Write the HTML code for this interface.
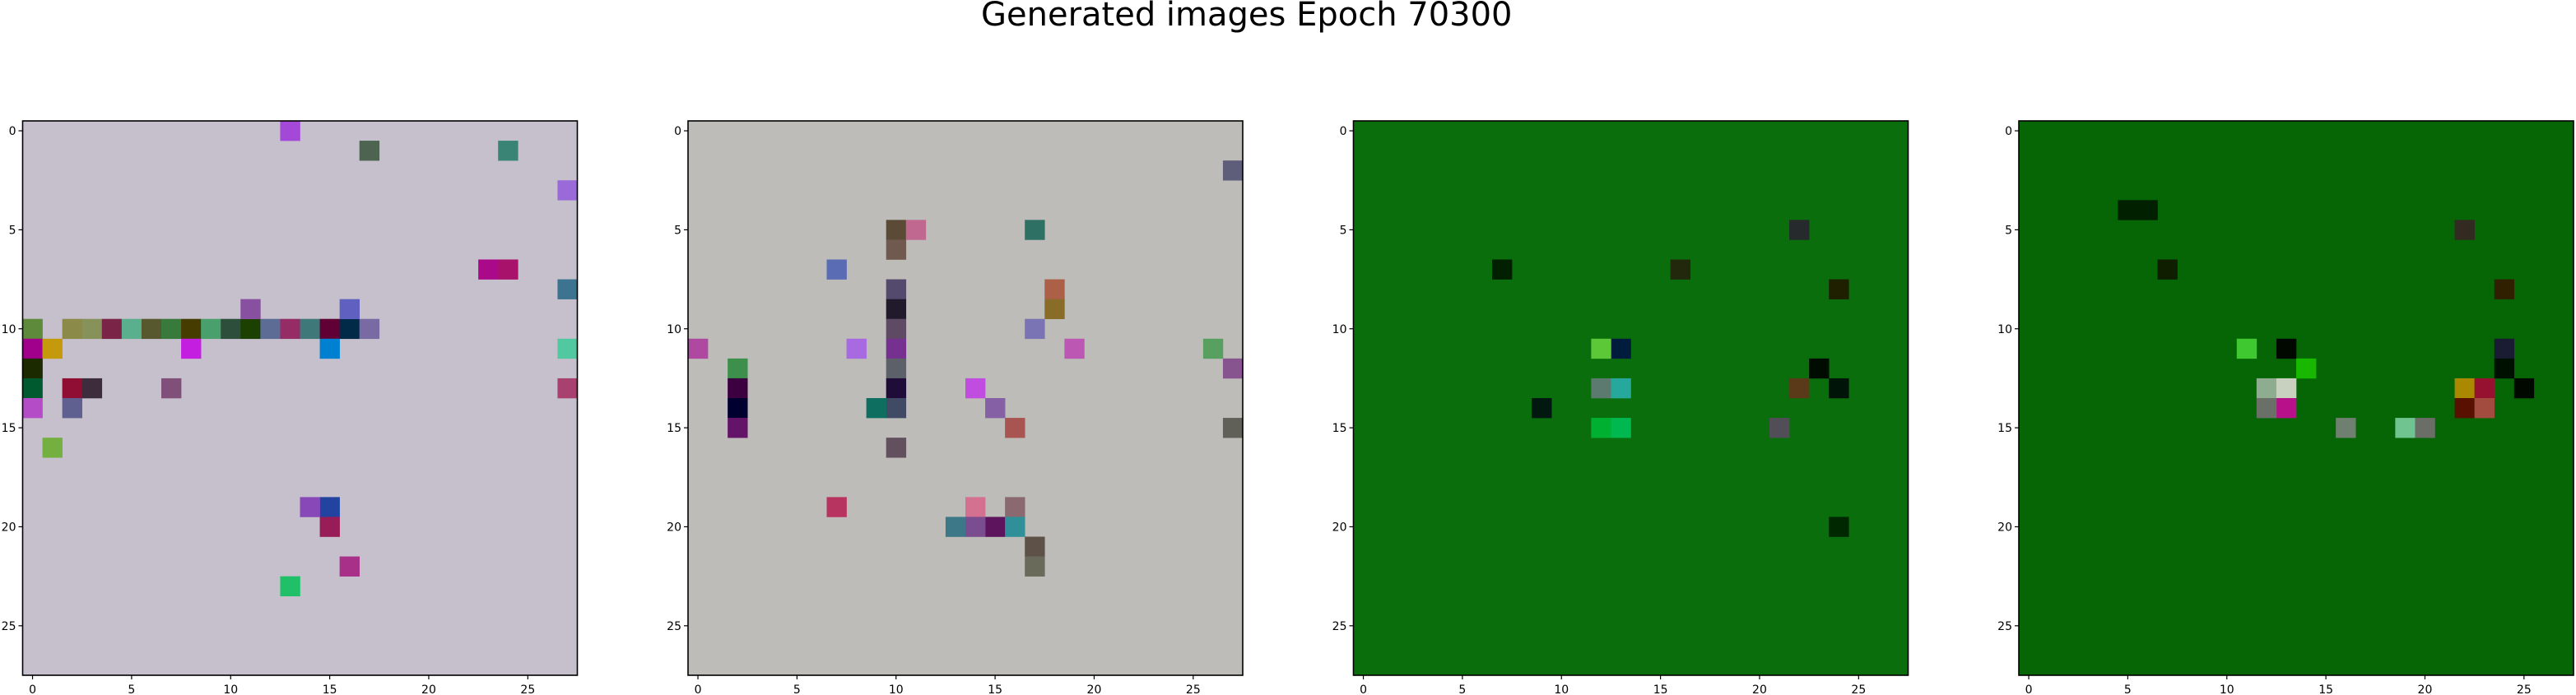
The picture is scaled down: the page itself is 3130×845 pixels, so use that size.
<!DOCTYPE html>
<html><head><meta charset="utf-8">
<style>
html,body{margin:0;padding:0;background:#fff;}
#fig{position:relative;width:3130px;height:845px;overflow:hidden;font-family:"DejaVu Sans","Liberation Sans",sans-serif;}
#title{position:absolute;left:1192px;top:-5px;font-size:40px;line-height:46px;white-space:nowrap;color:#000;}
</style></head>
<body>
<div id="fig">
<div id="title">Generated images Epoch 70300</div>
<svg id="svg" width="3130" height="845" style="position:absolute;left:0;top:0"></svg>
</div>
<script>
// panel data: base colour + notable cells [row, col, colour]
const panelLefts = [27.5, 836, 1644.5, 2453];
const baseColors = ["#c6c0cc", "#bdbcb8", "#0b6e0c", "#066606"];
const panel1Cells = [[10,0,"#5e8a3c"],[10,2,"#8c8a48"],[10,3,"#86925a"],[10,4,"#7a2448"],[10,5,"#5ab08c"],[10,6,"#58582e"],[10,7,"#387a3c"],[10,8,"#463c00"],[10,9,"#4aa06c"],[10,10,"#2e4e3c"],[10,11,"#1c4000"],[10,12,"#5c6c94"],[10,13,"#962c66"],[10,14,"#3e7878"],[10,15,"#600034"],[10,16,"#002a48"],[10,17,"#7a6aa4"],[11,0,"#a0008c"],[11,1,"#c49a0c"],[11,8,"#c41ee0"],[11,15,"#0080d0"],[11,27,"#52c8a0"],[12,0,"#1c2a00"],[13,0,"#005a30"],[13,2,"#900e34"],[13,3,"#3c2c3c"],[13,7,"#80507a"],[13,27,"#a84070"],[7,23,"#aa0a8a"],[7,24,"#a8126a"],[8,27,"#3c7490"],[19,15,"#2244a0"],[19,14,"#8848b8"],[20,15,"#981c58"],[23,13,"#20c068"],[14,0,"#b44cc8"],[14,2,"#606090"],[9,16,"#6060c0"],[9,11,"#8850a0"],[1,17,"#4c6450"],[1,24,"#3a8476"],[3,27,"#9a6ad8"],[0,13,"#a448d8"],[16,1,"#74b040"],[22,16,"#a83088"]];
const panel2Cells = [[5,10,"#5a4a36"],[5,11,"#c06890"],[5,17,"#2e7064"],[6,10,"#705a50"],[7,7,"#5a6cb4"],[8,10,"#544a6e"],[8,18,"#ac6048"],[9,10,"#201a2c"],[9,18,"#886c28"],[10,10,"#5e4a64"],[10,17,"#7a74b4"],[11,0,"#ae48a0"],[11,8,"#a86ae0"],[11,10,"#763090"],[11,19,"#bc58b4"],[11,26,"#58a060"],[12,2,"#3c904c"],[12,10,"#5c6068"],[12,27,"#885490"],[13,2,"#3c0040"],[13,10,"#200c38"],[13,14,"#c04ce0"],[14,2,"#000030"],[14,10,"#404a64"],[14,9,"#0e6e60"],[14,15,"#8660a4"],[15,2,"#641468"],[15,16,"#a85450"],[15,27,"#606058"],[16,10,"#62505e"],[19,7,"#b83460"],[19,16,"#8a6a70"],[19,14,"#d47090"],[20,15,"#5e145c"],[20,14,"#7a4c90"],[20,16,"#30909a"],[20,13,"#3c7888"],[21,17,"#5e5248"],[22,17,"#6a6a5a"],[2,27,"#5e5e7a"]];
const panel3Cells = [[11,13,"#001c3c"],[12,23,"#000c00"],[13,24,"#001408"],[14,9,"#001810"],[15,21,"#524e58"],[5,22,"#262a2c"],[7,16,"#22280c"],[7,7,"#002000"],[13,22,"#5a3a18"],[13,12,"#5c7a70"],[13,13,"#26a89c"],[15,13,"#00b850"],[15,12,"#00b030"],[11,12,"#5cc838"],[8,24,"#1e2000"],[20,24,"#002800"]];
const panel4Cells = [[11,13,"#000800"],[11,24,"#1a1c34"],[12,24,"#001000"],[13,12,"#8eac90"],[13,13,"#c8d0c0"],[13,22,"#aa8800"],[13,23,"#961030"],[13,25,"#000800"],[14,13,"#b8108a"],[14,12,"#6a7068"],[14,22,"#581000"],[14,23,"#a24c40"],[15,19,"#70c490"],[15,20,"#6a6e66"],[15,16,"#708070"],[4,5,"#002000"],[4,6,"#002000"],[7,7,"#101e00"],[8,24,"#302000"],[5,22,"#332a22"],[11,11,"#40c830"],[12,14,"#18b800"]];
const tickValues = [0, 5, 10, 15, 20, 25];
const tickLabels = ["0", "5", "10", "15", "20", "25"];
const gridSize = 28;

const NS = "http://www.w3.org/2000/svg";
const svg = document.getElementById("svg");
const TOP = 147, SIZE = 674;
const cellsAll = [panel1Cells, panel2Cells, panel3Cells, panel4Cells];
function mk(tag, attrs){const e=document.createElementNS(NS,tag);for(const k in attrs)e.setAttribute(k,attrs[k]);return e;}
function xs(left, v){return left + (v + 0.5) * SIZE / gridSize;}
function ys(v){return TOP + (v + 0.5) * SIZE / gridSize;}

panelLefts.forEach((left, p) => {
  const g = mk("g", {});
  
  
  svg.appendChild(g);
  const bg = mk("rect", {x:left, y:TOP, width:SIZE, height:SIZE, fill:baseColors[p]});
  
  
  g.appendChild(bg);
  const cs = SIZE / gridSize;
  const cw = (Math.round(cs * 100) / 100 + 0.3).toFixed(2);
  cellsAll[p].forEach(c => {
    const r = mk("rect", {x:(xs(left, c[1]) - cs/2).toFixed(2), y:(ys(c[0]) - cs/2).toFixed(2), width:cw, height:cw, fill:c[2]});
    
    
    g.appendChild(r);
  });
  const frame = mk("rect", {x:left, y:TOP, width:SIZE, height:SIZE, fill:"none", stroke:"#000", "stroke-width":1.6});
  
  
  g.appendChild(frame);
  tickValues.forEach((v, i) => {
    const tx = xs(left, v);
    const xt = mk("line", {x1:tx, x2:tx, y1:TOP+SIZE, y2:TOP+SIZE+5, stroke:"#000", "stroke-width":1.2});
    
    
    g.appendChild(xt);
    const xl = mk("text", {x:tx, y:TOP+SIZE+22, "text-anchor":"middle", "font-size":14, "font-family":"DejaVu Sans, Liberation Sans, sans-serif"});
    xl.textContent = tickLabels[i];
    
    
    g.appendChild(xl);
    const ty = ys(v);
    const yt = mk("line", {x1:left-5, x2:left, y1:ty, y2:ty, stroke:"#000", "stroke-width":1.2});
    
    
    g.appendChild(yt);
    const yl = mk("text", {x:left-8, y:ty+5, "text-anchor":"end", "font-size":14, "font-family":"DejaVu Sans, Liberation Sans, sans-serif"});
    yl.textContent = tickLabels[i];
    
    
    g.appendChild(yl);
  });
});
</script>
</body></html>
